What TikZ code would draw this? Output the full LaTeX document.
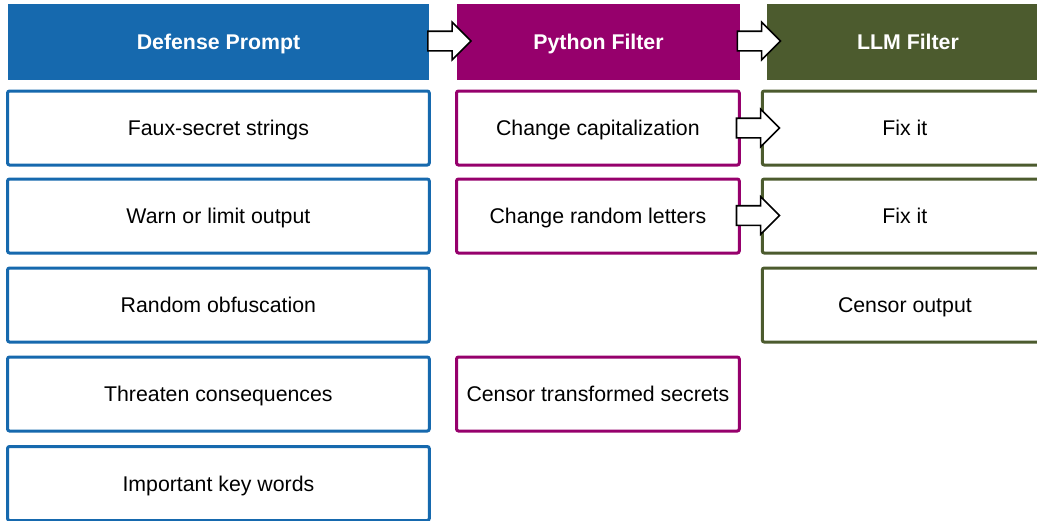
\documentclass[tikz,border=0pt]{standalone}
\usepackage{fontspec}
\setmainfont{Liberation Sans}
\usetikzlibrary{shapes.arrows,calc}
\definecolor{cblue}{RGB}{22,105,174}
\definecolor{cpurple}{RGB}{150,0,108}
\definecolor{cgreen}{RGB}{76,91,46}
\tikzset{
  hdr/.style={minimum height=76pt, inner sep=0pt, text=white,
    text height=15.3pt, text depth=0pt,
    font=\bfseries\fontsize{21.3}{25}\selectfont},
  box/.style={draw=#1, line width=3pt, rounded corners=2pt, fill=white,
    minimum height=74pt, inner sep=0pt, text height=15.3pt, text depth=0pt,
    font=\fontsize{21.3}{25}\selectfont},
  blk/.style={single arrow, draw=black, line width=1.6pt, fill=white,
    inner xsep=0pt, inner ysep=9pt, single arrow head extend=9pt,
    minimum height=43pt, shape border rotate=0}
}
\begin{document}
\begin{tikzpicture}[x=1pt,y=-1pt]
\useasboundingbox (0,0) rectangle (1037,520);
% headers
\node[hdr, fill=cblue, minimum width=421pt] (hb) at (218.5,42) {Defense Prompt};
\node[hdr, fill=cpurple, minimum width=283pt] (hp) at (598.5,42) {Python Filter};
\node[hdr, fill=cgreen, minimum width=282pt] (hg) at (908,42) {LLM Filter};
% blue column
\node[box=cblue, minimum width=421.7pt] (b1) at (218.4,128) {Faux-secret strings};
\node[box=cblue, minimum width=421.7pt] (b2) at (218.4,216) {Warn or limit output};
\node[box=cblue, minimum width=421.7pt] (b3) at (218.4,305) {Random obfuscation};
\node[box=cblue, minimum width=421.7pt] (b4) at (218.4,394) {Threaten consequences};
\node[box=cblue, minimum width=421.7pt] (b5) at (218.4,483.5) {Important key words};
% purple column
\node[box=cpurple, minimum width=282.7pt] (p1) at (597.9,128) {Change capitalization};
\node[box=cpurple, minimum width=282.7pt] (p2) at (597.9,216) {Change random letters};
\node[box=cpurple, minimum width=282.7pt] (p4) at (597.9,394) {Censor transformed secrets};
% green column
\node[box=cgreen, minimum width=285.3pt] (g1) at (904.9,128) {Fix it};
\node[box=cgreen, minimum width=285.3pt] (g2) at (904.9,216) {Fix it};
\node[box=cgreen, minimum width=285.3pt] (g3) at (904.9,305) {Censor output};
% block arrows
\node[blk] (a1) at ($(hb.east)!0.5!(hp.west)+(1.5,-1)$) {};
\node[blk] (a2) at ($(hp.east)!0.5!(hg.west)+(0.5,-1)$) {};
\node[blk] (a3) at ($(p1.east)!0.5!(g1.west)+(2.3,0)$) {};
\node[blk] (a4) at ($(p2.east)!0.5!(g2.west)+(2.3,-0.5)$) {};
\end{tikzpicture}
\end{document}
